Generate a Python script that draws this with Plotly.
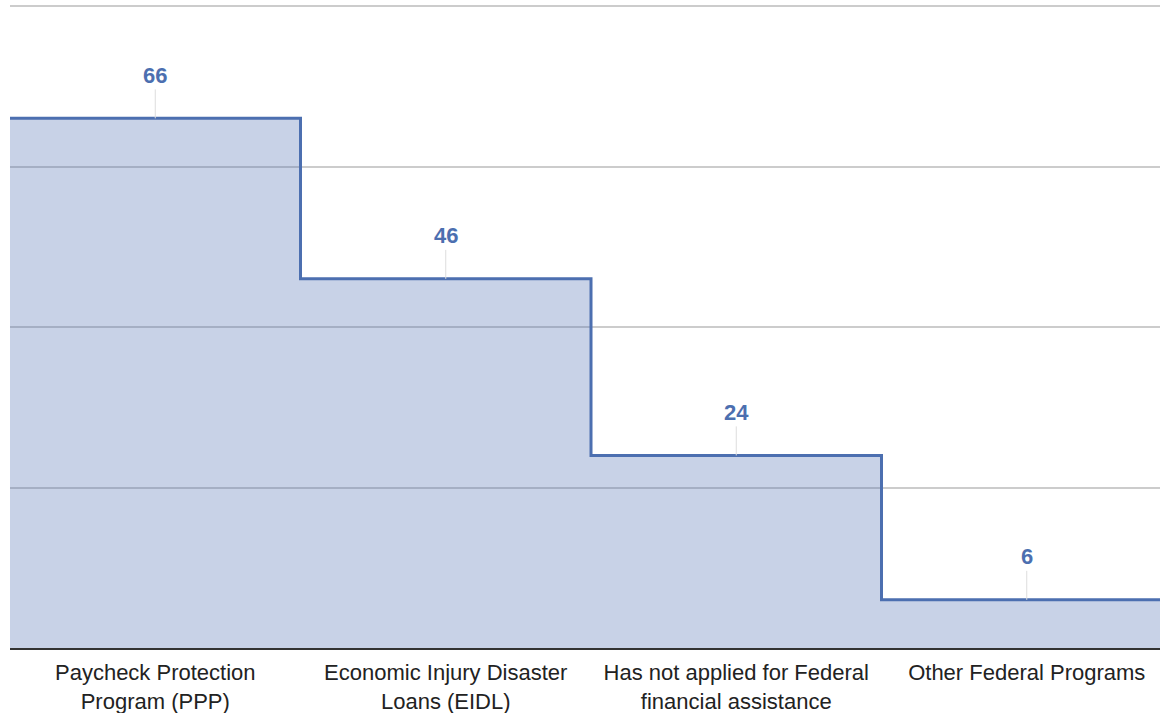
import plotly.graph_objects as go

categories = ["Paycheck Protection<br>Program (PPP)", "Economic Injury Disaster<br>Loans (EIDL)",
              "Has not applied for Federal<br>financial assistance", "Other Federal Programs"]
values = [66, 46, 24, 6]

pos = list(range(len(values)))
xs = [pos[0] - 0.5] + pos + [pos[-1] + 0.5]
ys = [values[0]] + values + [values[-1]]

LINE = "rgb(76,111,176)"
fig = go.Figure()
fig.add_trace(go.Scatter(
    x=xs, y=ys, mode="lines", line=dict(color=LINE, width=3, shape="hvh"),
    fill="tozeroy", fillcolor="rgba(76,111,176,0.31)", hoverinfo="skip", showlegend=False))

for p, v in zip(pos, values):
    fig.add_annotation(x=p, y=v, text=f"<b>{v}</b>", showarrow=True, arrowhead=0,
                       arrowwidth=1, arrowcolor="#dddddd", ax=0, ay=-43,
                       font=dict(family="Liberation Sans, Arial", size=22, color=LINE))

fig.update_layout(
    width=1160, height=713,
    margin=dict(l=10, r=0, t=2, b=65),
    paper_bgcolor="white", plot_bgcolor="white",
    xaxis=dict(range=[-0.5, -0.5 + 1150 / 290.5], tickvals=pos, ticktext=categories,
               showgrid=False, zeroline=False, showline=True, linecolor="#333333", linewidth=2,
               ticks="", ticklabelstandoff=4,
               tickfont=dict(family="Liberation Sans, Arial", size=22, color="#222222")),
    yaxis=dict(range=[0, 80.5], tickvals=[0, 20, 40, 60, 80], showticklabels=False,
               showgrid=True, gridcolor="#cccccc", gridwidth=1.5, zeroline=False, showline=False),
)
fig.write_html("out.html")
